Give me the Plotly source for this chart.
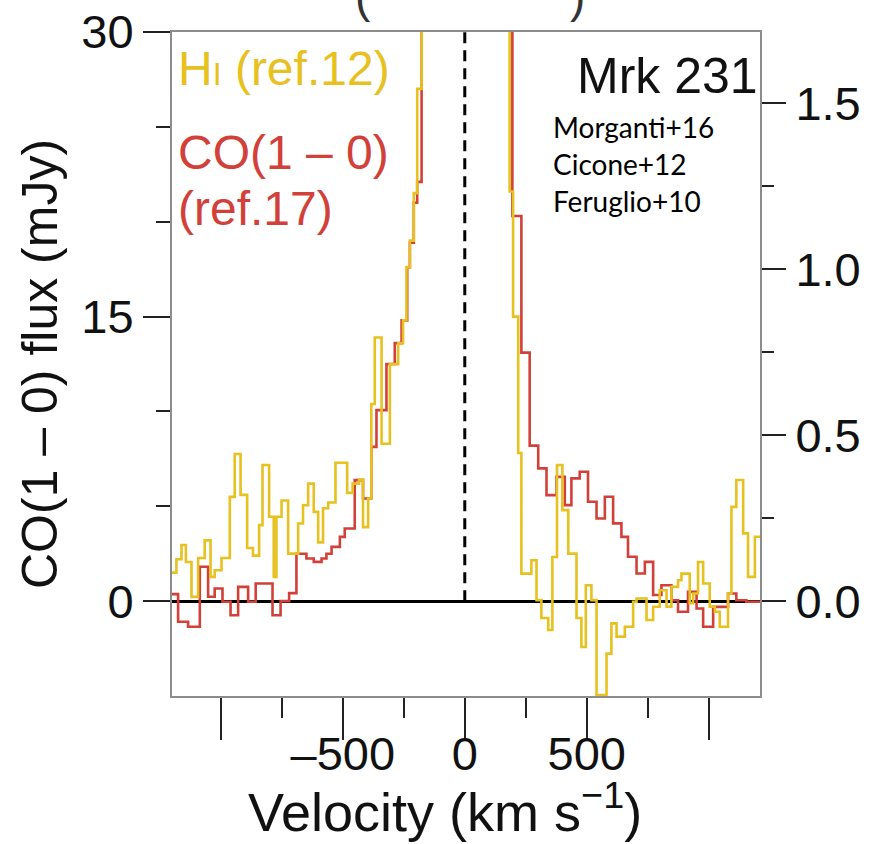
import plotly.graph_objects as go

# ---- data ----
# CO(1-0) spectrum, left axis (mJy): step start velocity (km/s) and flux
co_vel = [-1200, -1175, -1134, -1086, -1052, -1025, -993, -960, -929, -888, -857, -788, -755, -720,
          -690, -649, -619, -587, -567, -546, -512, -492, -451, -417, -383, -362, -321, -287, -259,
          -236, -225, -209, -195, -177, -90, 0, 90, 150, 195, 232, 266, 301, 335, 376, 410, 437, 471,
          505, 540, 574, 608, 642, 669, 704, 738, 772, 806, 847, 874, 915, 950, 977, 1018, 1079,
          1113, 1154, 1210]
co_flux = [0.37, -1.09, -1.35, 1.81, 0.23, 0.67, -0.03, -0.74, 0.75, -0.03, 0.93, -0.74, 0.0, 0.42,
           2.5, 2.25, 2.07, 2.25, 2.5, 2.86, 3.39, 3.83, 6.38, 5.41, 8.13, 10.07, 12.5, 13.6, 14.8,
           17.6, 18.9, 21.0, 22.1, 40, 60, 70, 60, 40, 20.3, 13.1, 8.2, 7.0, 5.59, 6.55, 5.06, 6.47,
           6.82, 5.24, 4.36, 5.5, 4.1, 3.39, 2.34, 1.46, 2.07, 0.32, 0.84, 0.05, -0.56, 0.49, -0.39,
           -1.35, -0.3, 0.4, 0.05, -0.03, -0.03]

# HI spectrum, right axis: step start velocity (km/s) and flux
hi_vel = [-1200, -1182, -1161, -1143, -1120, -1093, -1066, -1042, -1025, -997, -963, -943, -919,
          -892, -868, -843, -829, -802, -783, -772, -751, -724, -683, -663, -642, -619, -601, -581,
          -560, -530, -482, -460, -433, -417, -396, -383, -369, -341, -307, -273, -253, -239, -225,
          -209, -195, -177, -90, 0, 90, 150, 184, 198, 219, 232, 273, 294, 314, 342, 359, 378, 400,
          424, 458, 478, 496, 519, 540, 581, 601, 622, 656, 690, 704, 745, 772, 799, 827, 847, 874,
          888, 922, 936, 956, 977, 1004, 1025, 1045, 1079, 1093, 1113, 1141, 1161, 1189, 1210]
hi_flux = [0.086, 0.126, 0.169, 0.118, 0.013, 0.130, 0.183, 0.073, 0.093, 0.130, 0.314, 0.443, 0.320,
           0.160, 0.137, 0.229, 0.410, 0.254, 0.073, 0.254, 0.303, 0.143, 0.234, 0.289, 0.354, 0.269,
           0.177, 0.280, 0.297, 0.417, 0.326, 0.354, 0.366, 0.223, 0.309, 0.594, 0.794, 0.474, 0.714,
           0.777, 0.846, 1.006, 1.086, 1.229, 1.543, 2.4, 3.2, 3.5, 3.0, 2.2, 1.234, 0.857, 0.446,
           0.083, 0.123, 0.003, -0.051, -0.087, 0.133, 0.410, 0.274, 0.143, -0.051, -0.138, 0.048,
           0.003, -0.283, -0.158, -0.067, -0.107, -0.077, -0.002, 0.008, -0.057, -0.017, 0.033,
           -0.017, 0.043, 0.063, 0.083, -0.006, 0.023, 0.118, 0.053, -0.017, -0.032, -0.077, 0.023,
           0.284, 0.365, 0.204, 0.073, 0.194, 0.194]

x_range = [-1200, 1210]
co_range = [-5, 30]
hi_scale = 17.5  # mJy of CO per unit of right axis
hi_range = [co_range[0] / hi_scale, co_range[1] / hi_scale]

x_major = [-1000, -500, 0, 500, 1000]
x_major_text = ["", "\u2013500", "0", "500", ""]
x_minor = [-750, -250, 250, 750]
y_major = [0, 15, 30]
y_minor = [5, 10, 20, 25]
y2_major = [0.0, 0.5, 1.0, 1.5]
y2_minor = [0.25, 0.75, 1.25]

YELLOW = "#E7C11F"
RED = "#D2403A"
FRAME = "#8c8c8c"
TICK = "#222222"
FONT = "Liberation Sans"

fig = go.Figure()
fig.add_trace(go.Scatter(x=co_vel, y=co_flux, mode="lines", line=dict(shape="hv", color=RED, width=2.6),
                         yaxis="y", showlegend=False, hoverinfo="skip"))
fig.add_trace(go.Scatter(x=hi_vel, y=hi_flux, mode="lines", line=dict(shape="hv", color=YELLOW, width=2.6),
                         yaxis="y2", showlegend=False, hoverinfo="skip"))

# dashed line at systemic velocity
fig.add_shape(type="line", xref="x", yref="y", x0=0, x1=0, y0=0, y1=co_range[1],
              line=dict(color="black", width=3, dash="11px,7px"), layer="above")

fig.update_layout(
    width=884, height=844,
    margin=dict(l=172, r=124, t=32, b=148, autoexpand=False),
    paper_bgcolor="white", plot_bgcolor="white",
    font=dict(family=FONT, color="#111111", size=46),
    xaxis=dict(range=x_range, showline=True, linecolor=FRAME, linewidth=2, mirror=True,
               showgrid=False, zeroline=False,
               tickmode="array", tickvals=x_major, ticktext=x_major_text,
               ticks="outside", ticklen=42, tickwidth=2, tickcolor=TICK,
               tickfont=dict(size=47), ticklabelstandoff=-26,
               minor=dict(tickmode="array", tickvals=x_minor, ticks="outside", ticklen=20,
                          tickwidth=2, tickcolor=TICK)),
    yaxis=dict(range=co_range, showline=True, linecolor=FRAME, linewidth=2, mirror=True,
               showgrid=False, zeroline=True, zerolinecolor="black", zerolinewidth=2.5,
               tickmode="array", tickvals=y_major, ticks="outside", ticklen=27, tickwidth=2,
               tickcolor=TICK, tickfont=dict(size=47),
               minor=dict(tickmode="array", tickvals=y_minor, ticks="outside", ticklen=14,
                          tickwidth=2, tickcolor=TICK),
               title=dict(text="CO(1 \u2013 0) flux (mJy)", font=dict(size=50), standoff=8)),
    yaxis2=dict(range=hi_range, overlaying="y", side="right", showline=True, linecolor=FRAME,
                linewidth=2, showgrid=False, zeroline=False,
                tickmode="array", tickvals=y2_major, tickformat=".1f",
                ticks="outside", ticklen=24, tickwidth=2, tickcolor=TICK, tickfont=dict(size=47),
                minor=dict(tickmode="array", tickvals=y2_minor, ticks="outside", ticklen=12,
                           tickwidth=2, tickcolor=TICK)),
)

ann = []
# x-axis title, centred on the figure
ann.append(dict(text="Velocity (km s<sup>\u22121</sup>)", x=(445 - 172) / 588, xanchor="center",
                y=0, yanchor="middle", yshift=-112, font=dict(size=54, color="#111111")))
ann.append(dict(text="H<span style='font-size:32px'>I</span> (ref.12)", x=0, xanchor="left", y=1,
                yanchor="top", xshift=4, yshift=-8, font=dict(size=48, color=YELLOW)))
ann.append(dict(text="CO(1 \u2013 0)", x=0, xanchor="left", y=1, yanchor="top", xshift=4, yshift=-92,
                font=dict(size=48, color=RED)))
ann.append(dict(text="(ref.17)", x=0, xanchor="left", y=1, yanchor="top", xshift=4, yshift=-148,
                font=dict(size=48, color=RED)))
ann.append(dict(text="Mrk 231", x=1, xanchor="right", y=1, yanchor="top", xshift=0, yshift=-14,
                font=dict(size=50, color="#111111")))
refs = ["Morganti+16", "Cicone+12", "Feruglio+10"]
for i, r in enumerate(refs):
    ann.append(dict(text=r, x=(551 - 172) / 588, xanchor="left", y=1, yanchor="top",
                    yshift=-76 - 37 * i, font=dict(family="Lato", size=28, color="black")))
# clipped remnant of a heading above the panel
ann.append(dict(text="(", x=(363 - 172) / 588, xanchor="center", y=1, yanchor="bottom", yshift=8,
                font=dict(size=46, color="#333333")))
ann.append(dict(text=")", x=(577 - 172) / 588, xanchor="center", y=1, yanchor="bottom", yshift=8,
                font=dict(size=46, color="#333333")))
for a in ann:
    a.update(xref="paper", yref="paper", showarrow=False)
fig.update_layout(annotations=ann)

fig.write_html("out.html")
